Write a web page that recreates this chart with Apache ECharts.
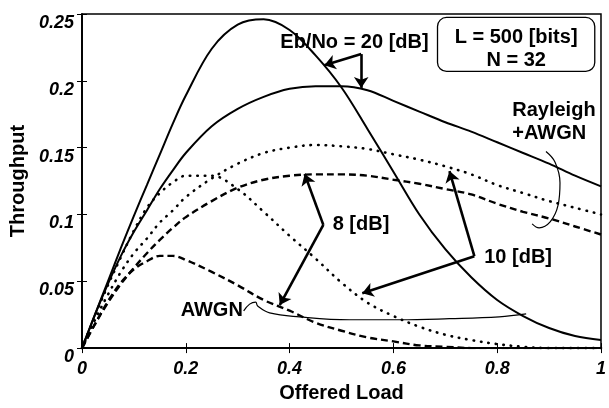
<!DOCTYPE html>
<html>
<head>
<meta charset="utf-8">
<script src="https://cdn.jsdelivr.net/npm/echarts@6/dist/echarts.min.js"></script>
<style>
  html, body { margin: 0; padding: 0; background: #fff; }
  #chart { width: 609px; height: 408px; }
</style>
</head>
<body>
<div id="chart"></div>
<script>
// offered load (x), shared by all curves
var load = [0, 0.025, 0.05, 0.075, 0.1, 0.125, 0.15, 0.175, 0.2, 0.25, 0.3, 0.35, 0.4, 0.45, 0.5,
            0.55, 0.6, 0.65, 0.7, 0.75, 0.8, 0.85, 0.9, 0.95, 1.0];
// Eb/No = 20 dB
var awgn20 = [0, 0.025, 0.05, 0.075, 0.099, 0.122, 0.145, 0.168, 0.189, 0.224, 0.242, 0.246, 0.238, 0.219, 0.195,
              0.164, 0.132, 0.1, 0.074, 0.053, 0.036, 0.024, 0.015, 0.009, 0.006];
var rayl20 = [0, 0.025, 0.048, 0.069, 0.087, 0.103, 0.119, 0.133, 0.146, 0.166, 0.179, 0.188, 0.194, 0.196, 0.196,
              0.193, 0.185, 0.177, 0.169, 0.162, 0.154, 0.146, 0.138, 0.129, 0.121];
// 10 dB
var awgn10 = [0, 0.024, 0.047, 0.068, 0.088, 0.105, 0.116, 0.124, 0.129, 0.129, 0.119, 0.102, 0.084, 0.067, 0.049,
              0.034, 0.024, 0.016, 0.01, 0.006, 0.003, 0.001, 0, 0, 0];
var rayl10 = [0, 0.021, 0.04, 0.057, 0.071, 0.082, 0.094, 0.103, 0.113, 0.127, 0.138, 0.146, 0.15, 0.152, 0.151,
              0.149, 0.145, 0.141, 0.136, 0.13, 0.122, 0.116, 0.11, 0.105, 0.1];
// 8 dB
var awgn8 = [0, 0.018, 0.035, 0.049, 0.059, 0.065, 0.069, 0.069, 0.066, 0.057, 0.047, 0.036, 0.028, 0.019, 0.013,
             0.008, 0.005, 0.002, 0.001, 0, 0, 0, 0, 0, 0];
var rayl8 = [0, 0.018, 0.034, 0.048, 0.06, 0.071, 0.081, 0.09, 0.098, 0.11, 0.12, 0.126, 0.129, 0.13, 0.13,
             0.129, 0.126, 0.123, 0.119, 0.115, 0.108, 0.102, 0.097, 0.091, 0.085];

var xTicks = [0, 0.2, 0.4, 0.6, 0.8, 1];
var yTicks = [0, 0.05, 0.1, 0.15, 0.2, 0.25];

function pairs(ys) {
  return load.map(function (x, i) { return [x, ys[i]]; });
}

var FONT = '"Liberation Sans", Arial, Helvetica, sans-serif';
var solid = { color: '#000', width: 2, type: 'solid' };
var dotted = { color: '#000', width: 2.6, type: [0.5, 7], cap: 'round' };
var dashed = { color: '#000', width: 2.4, type: [7, 4] };

function curve(name, ys, style) {
  return {
    name: name, type: 'line', data: pairs(ys), showSymbol: false,
    smooth: 0.35, lineStyle: style, silent: true
  };
}

// annotation arrows (data coords): [from, to]
var arrows = [
  [[0.538, 0.220], [0.467, 0.2116]],
  [[0.538, 0.220], [0.538, 0.1947]],
  [[0.465, 0.0922], [0.429, 0.1303]],
  [[0.465, 0.0922], [0.381, 0.0322]],
  [[0.756, 0.0688], [0.708, 0.1325]],
  [[0.756, 0.0688], [0.540, 0.041]]
];
// hand-drawn leader loops
var awgnLoop = [[0.3115, 0.0278], [0.323, 0.0329], [0.3346, 0.0344], [0.3385, 0.0315], [0.3615, 0.0264],
                [0.4192, 0.0234], [0.5154, 0.0212], [0.6115, 0.0212], [0.7077, 0.022], [0.8038, 0.0234], [0.8558, 0.0256]];
var raylLoop = [[0.894, 0.1471], [0.9115, 0.1391], [0.921, 0.1237], [0.9173, 0.1069], [0.902, 0.0944],
                [0.8808, 0.09], [0.8673, 0.093]];

var chart = echarts.init(document.getElementById('chart'));
var axisLbl = { color: '#000', fontFamily: FONT, fontWeight: 'bold', fontStyle: 'italic', fontSize: 18 };

chart.setOption({
  animation: false,
  backgroundColor: '#fff',
  grid: { left: 82, right: 6, top: 14, bottom: 52, show: true, borderColor: '#000', borderWidth: 1.5 },
  xAxis: [{
    type: 'value', min: 0, max: 1, interval: 0.2,
    name: 'Offered Load', nameLocation: 'middle', nameGap: 34,
    nameTextStyle: { color: '#000', fontFamily: FONT, fontWeight: 'bold', fontSize: 20 },
    axisLine: { lineStyle: { color: '#000', width: 1.5 } },
    axisTick: { inside: true, length: 5, lineStyle: { color: '#000' } },
    axisLabel: Object.assign({ margin: 12 }, axisLbl),
    splitLine: { show: false }
  }, {
    type: 'value', min: 0, max: 1, interval: 0.2, position: 'top',
    axisLine: { lineStyle: { color: '#000', width: 1.5 } },
    axisTick: { inside: true, length: 5, lineStyle: { color: '#000' } },
    axisLabel: { show: false }, splitLine: { show: false }
  }],
  yAxis: [{
    type: 'value', min: 0, max: 0.25, interval: 0.05,
    name: 'Throughput', nameLocation: 'middle', nameGap: 52,
    nameTextStyle: { color: '#000', fontFamily: FONT, fontWeight: 'bold', fontSize: 20 },
    axisLine: { show: true, lineStyle: { color: '#000', width: 1.5 } },
    axisTick: { show: true, inside: true, length: 5, lineStyle: { color: '#000' } },
    axisLabel: Object.assign({ margin: 8, verticalAlign: 'top' }, axisLbl),
    splitLine: { show: false }
  }, {
    type: 'value', min: 0, max: 0.25, interval: 0.05, position: 'right',
    axisLine: { show: true, lineStyle: { color: '#000', width: 1.5 } },
    axisTick: { show: true, inside: true, length: 5, lineStyle: { color: '#000' } },
    axisLabel: { show: false }, splitLine: { show: false }
  }],
  series: [
    curve('AWGN 20dB', awgn20, solid),
    curve('Rayleigh 20dB', rayl20, solid),
    curve('AWGN 10dB', awgn10, dotted),
    curve('Rayleigh 10dB', rayl10, dotted),
    curve('AWGN 8dB', awgn8, dashed),
    curve('Rayleigh 8dB', rayl8, dashed),
    {
      type: 'line', data: awgnLoop, showSymbol: false, smooth: 0.4, silent: true,
      lineStyle: { color: '#000', width: 1.2 }
    },
    {
      type: 'line', data: raylLoop, showSymbol: false, smooth: 0.4, silent: true,
      lineStyle: { color: '#000', width: 1.2 }
    },
    {
      type: 'line', data: [], silent: true,
      markLine: {
        silent: true, symbol: ['none', 'arrow'], symbolSize: 11,
        label: { show: false },
        lineStyle: { color: '#000', width: 2.6, type: 'solid' },
        data: arrows.map(function (a) { return [{ coord: a[0] }, { coord: a[1] }]; })
      }
    }
  ]
});

// text annotations, placed through the chart's scales
function px(pt) { return chart.convertToPixel({ gridIndex: 0 }, pt); }
function label(text, pt, align) {
  var p = px(pt);
  return {
    type: 'text', x: p[0], y: p[1], z: 10,
    style: {
      text: text, fill: '#000', font: 'bold 20px ' + FONT,
      textAlign: align || 'center', textVerticalAlign: 'middle'
    }
  };
}
var b0 = px([0.685, 0.2474]), b1 = px([0.988, 0.207]);
chart.setOption({
  graphic: [
    {
      type: 'rect', z: 9,
      shape: { x: b0[0], y: b0[1], width: b1[0] - b0[0], height: b1[1] - b0[1], r: 9 },
      style: { fill: '#fff', stroke: '#000', lineWidth: 1.3 }
    },
    label('L = 500 [bits]', [0.8365, 0.2328]),
    label('N = 32', [0.8365, 0.2152]),
    label('Eb/No = 20 [dB]', [0.525, 0.2284]),
    label('Rayleigh', [0.829, 0.1779], 'left'),
    label('+AWGN', [0.829, 0.1603], 'left'),
    label('8 [dB]', [0.483, 0.0922], 'left'),
    label('10 [dB]', [0.775, 0.0681], 'left'),
    label('AWGN', [0.25, 0.0278])
  ]
});
</script>
</body>
</html>
